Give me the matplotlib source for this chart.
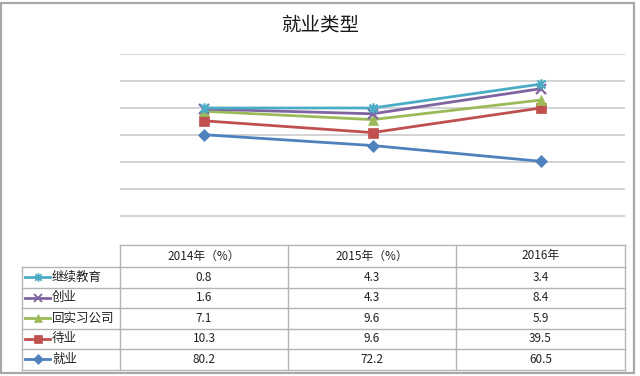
import numpy as np
import matplotlib.pyplot as plt
from matplotlib.path import Path
from matplotlib.patches import Rectangle

plt.rcParams['font.family'] = ['Noto Sans CJK SC', 'DejaVu Sans']

# data (stacked line chart, bottom series first)
years = ['2014年（%）', '2015年（%）', '2016年']
series = ['就业', '待业', '回实习公司', '创业', '继续教育']
jiuye = [80.2, 72.2, 60.5]
daiye = [10.3, 9.6, 39.5]
shixi = [7.1, 9.6, 5.9]
chuangye = [1.6, 4.3, 8.4]
jixu = [0.8, 4.3, 3.4]

values = [jiuye, daiye, shixi, chuangye, jixu]
colors = ['#4F81BD', '#C0504D', '#9BBB59', '#8064A2', '#4BACC6']

# excel style star marker: X with a vertical bar
star = Path([(-1, -1), (1, 1), (-1, 1), (1, -1), (0, -1.3), (0, 1.3)],
            [Path.MOVETO, Path.LINETO, Path.MOVETO, Path.LINETO, Path.MOVETO, Path.LINETO])
markers = ['D', 's', '^', 'x', star]
msizes = [6.5, 7, 7.5, 7, 7.5]

W, H = 640, 376
fig = plt.figure(figsize=(W / 100, H / 100), dpi=100)

# plot area in pixel coords
px_l, px_r, px_t, px_b = 120, 625, 54, 243
ax = fig.add_axes([px_l / W, 1 - px_b / H, (px_r - px_l) / W, (px_b - px_t) / H])

x = np.arange(len(years))
cum = np.cumsum(np.array(values), axis=0)
for i in range(len(series)):
    ax.plot(x, cum[i], color=colors[i], lw=2, marker=markers[i],
            markersize=msizes[i], markeredgewidth=1.6 if i >= 3 else 0.5,
            markeredgecolor=colors[i], zorder=3 + i)

ax.set_xlim(-0.5, len(years) - 0.5)
ax.set_ylim(0, 140)
ax.set_yticks(np.arange(20, 141, 20))
ax.yaxis.grid(True, color='#d0d0d0', lw=1.3)
ax.set_axisbelow(True)
ax.tick_params(left=False, bottom=False, labelleft=False, labelbottom=False)
for s in ax.spines.values():
    s.set_visible(False)

# overlay axes in pixels for the frame, title and data table
ov = fig.add_axes([0, 0, 1, 1], zorder=10)
ov.set_xlim(0, W)
ov.set_ylim(H, 0)
ov.axis('off')
ov.patch.set_visible(False)

ov.add_patch(Rectangle((1, 2.5), 633, 370, fill=False, ec='#a8a8a8', lw=1.6))
ov.text(320, 25, '就业类型', ha='center', va='center', fontsize=14, color='#1a1a1a')

grid_c = '#b4b4b4'
col_x = [px_l, 288, 456, px_r]
head_t, head_b, tab_b = 245, 267, 369.5
row_h = (tab_b - head_b) / len(series)
row_y = [head_b + k * row_h for k in range(len(series) + 1)]

ov.plot([px_l, px_r], [head_t, head_t], color=grid_c, lw=1)
for yy in row_y:
    ov.plot([22, px_r], [yy, yy], color=grid_c, lw=1)
ov.plot([22, 22], [head_b, tab_b], color=grid_c, lw=1)
for xx in col_x:
    ov.plot([xx, xx], [head_t, tab_b], color=grid_c, lw=1)

for j, yr in enumerate(years):
    ov.text((col_x[j] + col_x[j + 1]) / 2, (head_t + head_b) / 2, yr,
            ha='center', va='center', fontsize=8.5, color='#222222')

# rows: top row is the last (top) series
for r, i in enumerate(range(len(series) - 1, -1, -1)):
    yc = (row_y[r] + row_y[r + 1]) / 2
    ov.plot([25, 50], [yc, yc], color=colors[i], lw=2)
    ov.plot([37.5], [yc], color=colors[i], marker=markers[i],
            markersize=msizes[i] - 1.5, markeredgewidth=1.3 if i >= 3 else 0.5,
            markeredgecolor=colors[i])
    ov.text(52, yc, series[i], ha='left', va='center', fontsize=9, color='#222222')
    for j in range(len(years)):
        ov.text((col_x[j] + col_x[j + 1]) / 2, yc, f'{values[i][j]:.1f}',
                ha='center', va='center', fontsize=8.5, color='#222222')

fig.savefig('out.png', dpi=100)
